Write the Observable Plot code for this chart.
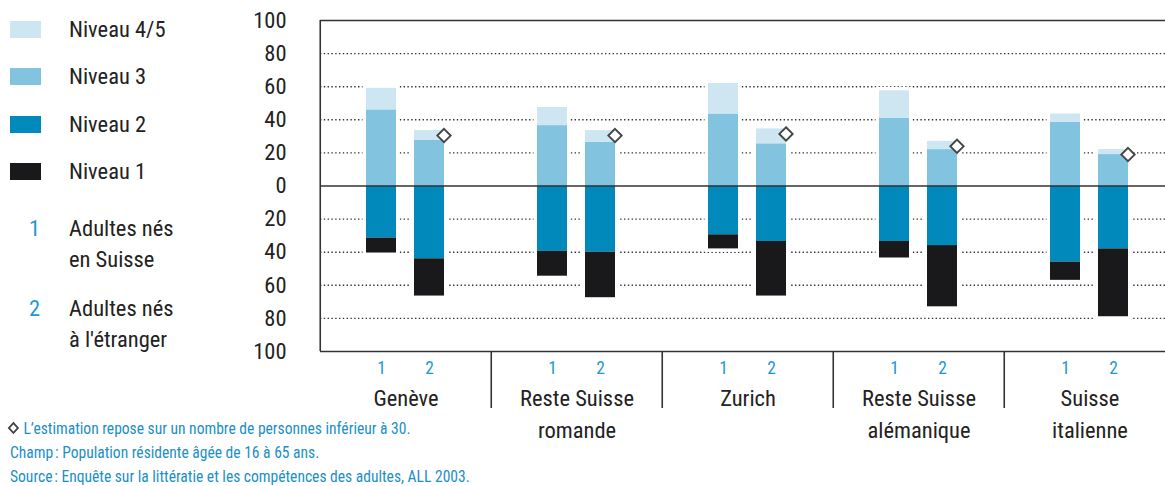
<!DOCTYPE html>
<html><head><meta charset="utf-8">
<script src="https://cdn.jsdelivr.net/npm/d3@7"></script>
<script src="https://cdn.jsdelivr.net/npm/@observablehq/plot@0.6"></script>
<style>
html,body{margin:0;padding:0;background:#fff;overflow:hidden;}
#wrap{position:relative;width:1165px;height:486px;overflow:hidden;font-family:"Roboto Condensed","DejaVu Sans Condensed",sans-serif;color:#222;}
#chart{position:absolute;left:0;top:0;}
.abs{position:absolute;white-space:nowrap;}
.sw{position:absolute;left:10px;width:31px;height:17px;}
.lg{font-size:22.5px;line-height:23px;}
.num{color:#1b9ad2;}
.note{font-size:17px;line-height:17px;color:#1b8fc6;transform:scaleX(0.915);transform-origin:0 50%;}
</style></head><body><div id="wrap"><div id="chart"></div></div>
<script>
// ---- data ----
const regions = ["Genève", "Reste Suisse\nromande", "Zurich", "Reste Suisse\nalémanique", "Suisse\nitalienne"];
const cohorts = ["1", "2"];
const levels = ["Niveau 4/5", "Niveau 3", "Niveau 2", "Niveau 1"];
const levelColors = ["#cde6f2", "#82c4df", "#0089ba", "#19191b"];
// per region: [cohort 1, cohort 2], in %
const niveau45 = [[13, 6], [11, 7], [18.5, 9], [16.5, 5], [5, 3]];
const niveau3  = [[46, 27.5], [36.5, 26.5], [43.5, 25.5], [41, 22], [38.5, 19]];
const niveau2  = [[31.5, 44], [39.5, 40], [29.5, 33.5], [33.5, 36], [46, 38]];
const niveau1  = [[9, 22.5], [15, 27.5], [8.5, 33], [10, 37], [11, 41]];
const smallSample = [[false, true], [false, true], [false, true], [false, true], [false, true]];
const yTicks = [-100, -80, -60, -40, -20, 0, 20, 40, 60, 80, 100];
const gridTicks = [-80, -60, -40, -20, 20, 40, 60, 80];
const frameTicks = [-100, 0, 100];
const cohortLegend = [["1", "Adultes nés", "en Suisse"], ["2", "Adultes nés", "à l'étranger"]];
const notes = [
  "L\u2019estimation repose sur un nombre de personnes inférieur à 30.",
  "Champ\u202F: Population résidente âgée de 16 à 65 ans.",
  "Source\u202F: Enquête sur la littératie et les compétences des adultes, ALL 2003."
];

// ---- build tables ----
const rows = [], totals = [], flags = [];
regions.forEach((r, i) => cohorts.forEach((c, j) => {
  rows.push({region: r, cohort: c, level: "Niveau 3", v: niveau3[i][j]});
  rows.push({region: r, cohort: c, level: "Niveau 4/5", v: niveau45[i][j]});
  rows.push({region: r, cohort: c, level: "Niveau 2", v: -niveau2[i][j]});
  rows.push({region: r, cohort: c, level: "Niveau 1", v: -niveau1[i][j]});
  const hi = niveau3[i][j] + niveau45[i][j];
  const lo = -(niveau2[i][j] + niveau1[i][j]);
  totals.push({region: r, cohort: c, lo, hi});
  if (smallSample[i][j]) flags.push({region: r, cohort: c, hi});
}));

// ---- layout ----
const W = 1165, H = 486, mL = 319, mT = 20, mB = 135, mR = -11.5;
const facetW = (W - mR - mL) / regions.length;
const step = 49, bw = 31;
const pInner = 1 - bw / step;
const pOuter = ((facetW / step) - cohorts.length + pInner) / 2;
const band1Center = facetW / 2 - step / 2;
const ink = "#333";
const font = '"Roboto Condensed","DejaVu Sans Condensed",sans-serif';

const chart = Plot.plot({
  width: W, height: H,
  marginLeft: mL, marginRight: mR, marginTop: mT, marginBottom: mB,
  style: {fontFamily: font, fontSize: "22.5px", color: "#222", background: "white"},
  fx: {domain: regions, padding: 0},
  x: {domain: cohorts, paddingInner: pInner, paddingOuter: pOuter},
  y: {domain: [-100, 100]},
  color: {domain: levels, range: levelColors},
  marks: [
    Plot.ruleY(gridTicks, {y: d => d, stroke: ink, strokeWidth: 1.4, strokeDasharray: "1.4,2.4"}),
    Plot.barY(totals, {fx: "region", x: "cohort", y1: "lo", y2: "hi", fill: "white", stroke: "white", strokeWidth: 7}),
    Plot.barY(rows, Plot.stackY({fx: "region", x: "cohort", y: "v", z: "level", fill: "level",
      order: ["Niveau 3", "Niveau 4/5", "Niveau 2", "Niveau 1"]})),
    Plot.ruleY(frameTicks, {y: d => d, stroke: ink, strokeWidth: 1.6}),
    Plot.ruleX([regions[0]], {fx: d => d, x: () => "1", dx: -band1Center, stroke: ink, strokeWidth: 1.6}),
    Plot.ruleX(regions.slice(1), {fx: d => d, x: () => "1", dx: -band1Center, stroke: ink, strokeWidth: 1.6,
      insetTop: H - mB - mT, insetBottom: -57}),
    Plot.dot(flags, {fx: "region", x: "cohort", y: "hi", symbol: "diamond2", r: 6, fill: "white",
      stroke: "#444", strokeWidth: 1.9, dx: 14.5, dy: 5}),
    Plot.axisY(yTicks, {tickSize: 0, tickPadding: 34, tickFormat: d => String(Math.abs(d)), fontSize: 22.5, label: null}),
    Plot.axisX({tickSize: 0, tickPadding: 10, fontSize: 17.5, color: "#1b9ad2", label: null}),
    Plot.axisFx({anchor: "bottom", tickSize: 0, tickPadding: 32, fontSize: 22.5, lineHeight: 1.42, label: null})
  ]
});
document.getElementById("chart").append(chart);

// ---- legend & notes (HTML) ----
const wrap = document.getElementById("wrap");
const swTops = [21, 68, 116, 163];
levels.forEach((l, k) => {
  const s = document.createElement("div");
  s.className = "sw"; s.style.top = swTops[k] + "px"; s.style.background = levelColors[k];
  wrap.append(s);
  const t = document.createElement("div");
  t.className = "abs lg"; t.style.left = "69px"; t.style.top = (swTops[k] + 8.5 - 11.5) + "px";
  t.textContent = l; wrap.append(t);
});
const cTops = [228, 308];
cohortLegend.forEach(([n, a, b], k) => {
  const y = cTops[k];
  const nn = document.createElement("div");
  nn.className = "abs lg num"; nn.style.left = "29px"; nn.style.top = (y - 11.5) + "px"; nn.textContent = n;
  wrap.append(nn);
  const t1 = document.createElement("div");
  t1.className = "abs lg"; t1.style.left = "69px"; t1.style.top = (y - 11.5) + "px"; t1.textContent = a;
  wrap.append(t1);
  const t2 = document.createElement("div");
  t2.className = "abs lg"; t2.style.left = "69px"; t2.style.top = (y + 31 - 11.5) + "px"; t2.textContent = b;
  wrap.append(t2);
});
const noteY = [428, 452, 476];
notes.forEach((txt, k) => {
  const d = document.createElement("div");
  d.className = "abs note"; d.style.left = k === 0 ? "7px" : "10px"; d.style.top = (noteY[k] - 8.5) + "px";
  if (k === 0) {
    const sym = document.createElementNS("http://www.w3.org/2000/svg", "svg");
    sym.setAttribute("width", "14"); sym.setAttribute("height", "14");
    sym.style.verticalAlign = "-1px"; sym.style.marginRight = "4px";
    sym.innerHTML = '<path d="M7 2 L12 7 L7 12 L2 7 Z" fill="white" stroke="#444" stroke-width="1.8"/>';
    d.append(sym);
  }
  d.append(document.createTextNode(txt));
  wrap.append(d);
});
</script></body></html>
